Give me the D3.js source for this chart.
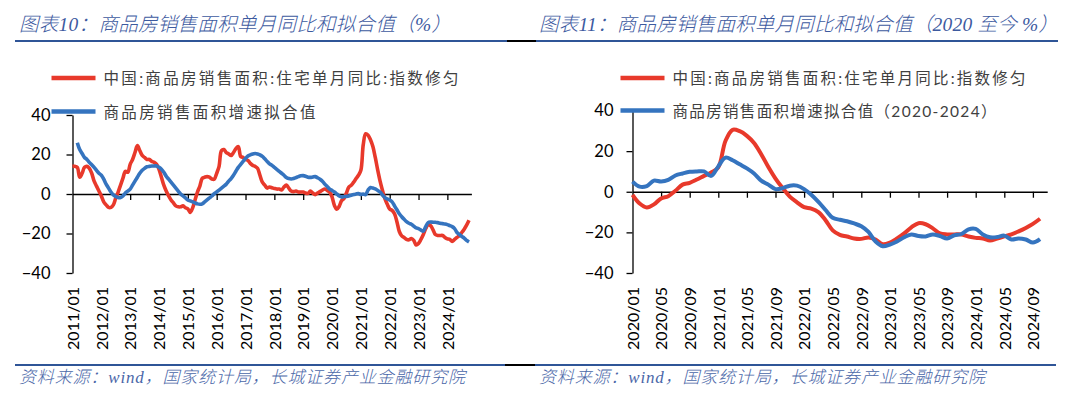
<!DOCTYPE html>
<html lang="zh">
<head>
  <meta charset="UTF-8">
  <title>商品房销售面积单月同比和拟合值</title>
  <script src="https://cdnjs.cloudflare.com/ajax/libs/d3/7.8.5/d3.min.js"></script>
  <style>
    body { margin: 0; background: #fff; }
    svg { display: block; }
    .axis path, .axis line { stroke: #000; stroke-width: 1.3px; }
    .axis text { font-family: Lato, "Liberation Sans", sans-serif; fill: #000; }
    .title { font-family: "Liberation Serif", "Noto Sans CJK SC", serif; font-style: italic; font-weight: 300; font-size: 19.5px; fill: #3d5a9f; }
    .source { font-family: "Liberation Serif", "Noto Sans CJK SC", serif; font-style: italic; font-weight: 300; font-size: 17px; fill: #4a67a8; }
    .legend text { font-family: Lato, "Noto Sans CJK SC", sans-serif; font-size: 15.5px; fill: #404040; }
  </style>
</head>
<body>
  <svg width="1080" height="393"></svg>
  <script>
    // 中国:商品房销售面积:住宅单月同比:指数修匀, 2011/01 - 2019/12
    const redHistory = [].concat(
      [14, 14, 13.5, 8.5, 10.5, 13.5, 14, 13, 10.5, 6.5, 4, 1.5],        // 2011
      [-1, -4, -5.5, -6.8, -6.8, -5.5, -2, 1, 4.5, 8, 11.5, 11],          // 2012
      [15, 17.5, 21, 24.5, 22, 19.5, 18.5, 17.5, 17.5, 16.5, 16, 15],     // 2013
      [12.5, 8.5, 4.5, 1.5, -1, -3, -4.5, -6, -6.5, -6.5, -6, -7],        // 2014
      [-7.5, -9.3, -7, -3, 1, 4, 8, 8.5, 8.8, 8.5, 7.6, 7.5],             // 2015
      [10.5, 14, 22, 22.5, 21, 20.3, 19.5, 21, 23, 24, 19, 18.5],         // 2016
      [17.5, 17, 15.5, 14.5, 14, 13, 9.5, 6, 4.5, 3, 3.5, 3.2],           // 2017
      [2.8, 2.5, 2.5, 2, 3.5, 4.5, 3, 1.5, 1.2, 1.5, 1, 1],               // 2018
      [1, 0.5, 0.3, 1.5, 0.5, -0.3, 0.5, 1.2, 2, 2.5, 1.8, 1]             // 2019
    )

    // 同一序列, 2020/01 - 2024/10
    const redRecent = [].concat(
      [-1.5, -5.8, -7.7, -6.2, -3.3, -2.2, 0.5, 3.5, 4.4, 6, 7.8, 9.5],            // 2020
      [12, 25, 30.5, 29.8, 27.5, 24, 18.5, 12.2, 6.5, 1.8, -2.4, -5.2],            // 2021
      [-7.6, -8.3, -10, -14, -19, -21.2, -22, -23, -23.2, -22.5, -23.5, -25.8],    // 2022
      [-25, -23, -20.5, -17.5, -15.5, -16, -18, -20.5, -21, -21, -21, -22],        // 2023
      [-22.7, -23, -24, -23, -22, -21, -19.5, -17.8, -15.8, -13.3]                 // 2024
    )

    // 商品房销售面积增速拟合值, 2011/03 - 2024/10
    const blueFitLong = [].concat(
      [26, 22.5, 20.5, 18.5, 17.5, 16, 14.8, 13.5, 12, 10.5],                     // 2011 (3月起)
      [9.5, 7.5, 5, 3, 1, -0.5, -1.2, -1.8, -1.8, -1, 0.5, 1.5],                  // 2012
      [2.5, 4.5, 6.5, 8.5, 10.5, 12, 13, 13.8, 14, 14.2, 14.2, 14.2],             // 2013
      [13.5, 12.5, 11, 9, 7.5, 6, 4.5, 3, 1.5, 0, -1, -2],                        // 2014
      [-3, -3.5, -4, -4.5, -5, -5.2, -5, -4, -3, -2, -1, 0.2],                    // 2015
      [1, 2, 3, 4, 5, 6.5, 7.8, 9.5, 11.5, 13.5, 15, 16.5],                       // 2016
      [18, 19.2, 19.8, 20.3, 20.5, 20.3, 19.8, 19, 17.8, 16.5, 15.3, 14.5],       // 2017
      [13.5, 12.5, 11.5, 10.5, 9.5, 8.3, 7.8, 7.6, 7.8, 8.3, 8.8, 9.2],           // 2018
      [9.3, 9, 8.5, 8.4, 8.6, 8.8, 8.2, 7.5, 6.5, 5, 3.8, 2.5],                   // 2019
      [1.8, 1, 0, -1, -1.5, -1.3, -1.2, -1, -0.6, -0.3, 0, 0.2],                  // 2020
      [-0.2, 0, -0.3, 2, 3.3, 3, 2.6, 1.8, 1, -0.5, -1.8, -2.5],                  // 2021
      [-3, -4, -6, -8, -10, -11.5, -12.8, -14, -14.8, -15.3, -16.3, -17.2],       // 2022
      [-17.5, -18.3, -18.8, -16.5, -14.5, -14.2, -14.3, -14.3, -14.5, -14.8, -15, -15.2], // 2023
      [-15.5, -16, -16.5, -17.5, -19.5, -20.5, -21.5, -22.3, -23.5, -24.3]        // 2024
    )

    // 商品房销售面积增速拟合值（2020-2024）, 2020/01 - 2024/10
    const blueFit2020 = [].concat(
      [5, 2.5, 2.8, 5.5, 5, 5.8, 8, 9, 9.8, 10, 10, 7.8],                          // 2020
      [12.5, 16.8, 15.5, 13.5, 11.5, 9, 5.5, 3.5, 1.3, 1.8, 3, 3],                 // 2021
      [1.3, -1.5, -5, -9, -12.8, -13.8, -14.5, -15.6, -17, -19.8, -24.5, -26.8],   // 2022
      [-26, -24.5, -22.4, -21, -21.8, -22, -21, -21.8, -23, -21.5, -20.8, -18.5],  // 2023
      [-18.3, -21, -22.4, -22.3, -21.6, -23.5, -23, -23.5, -25, -23.3]             // 2024
    )

    const yTicks = [-40, -20, 0, 20, 40]
    const leftTickLabels = ['2011/01', '2012/01', '2013/01', '2014/01', '2015/01', '2016/01', '2017/01',
      '2018/01', '2019/01', '2020/01', '2021/01', '2022/01', '2023/01', '2024/01']
    const rightTickLabels = ['2020/01', '2020/05', '2020/09', '2021/01', '2021/05', '2021/09', '2022/01',
      '2022/05', '2022/09', '2023/01', '2023/05', '2023/09', '2024/01', '2024/05', '2024/09']

    const RED = '#e8392b'
    const BLUE = '#3574bf'
    const LINE_BLUE = '#2f5597'

    const svg = d3.select('svg')

    // 标题、来源的分隔线
    function rule(y, x1, x2, color) {
      svg.append('line')
        .attr('x1', x1).attr('x2', x2).attr('y1', y).attr('y2', y)
        .attr('stroke', color).attr('stroke-width', 2)
    }
    rule(41, 15, 507, LINE_BLUE)
    rule(41, 507, 536, '#000')
    rule(41, 536, 1058, LINE_BLUE)
    rule(365, 15, 505, LINE_BLUE)
    rule(365, 505, 535, '#000')
    rule(365, 535, 1056, LINE_BLUE)

    function drawPanel(p) {
      const g = svg.append('g')
      const n = p.months
      const x = d3.scaleLinear().domain([0, n]).range([p.x0, p.x0 + n * p.step])
      const y = d3.scaleLinear().domain([-40, 40]).range([p.yBot, p.yTop])

      g.append('text').attr('class', 'title')
        .attr('x', p.titleX).attr('y', 30.5)
        .attr('textLength', p.titleLen).attr('lengthAdjust', 'spacing')
        .text(p.title)

      g.append('text').attr('class', 'source')
        .attr('x', p.titleX).attr('y', 383)
        .attr('textLength', 446).attr('lengthAdjust', 'spacing')
        .text('资料来源：wind，国家统计局，长城证券产业金融研究院')

      // y 轴
      g.append('g').attr('class', 'axis')
        .attr('transform', `translate(${p.x0},0)`)
        .call(d3.axisLeft(y).tickValues(yTicks).tickSize(6).tickSizeOuter(0).tickPadding(p.yPad))
        .selectAll('text').style('font-size', '16.5px')

      // x 轴 (0 线)
      const tickIdx = p.labels.map((d, i) => i * p.every)
      const xAxis = g.append('g').attr('class', 'axis')
        .attr('transform', `translate(0,${y(0)})`)
        .call(d3.axisBottom(x).tickValues(tickIdx).tickSize(6).tickSizeOuter(0)
          .tickFormat((d, i) => p.labels[i]))
      xAxis.selectAll('.tick').filter(d => d === 0).select('line').remove()
      xAxis.selectAll('text')
        .style('font-size', '16px')
        .attr('transform', 'rotate(-90)')
        .attr('text-anchor', 'end')
        .attr('x', -(287 - y(0)))
        .attr('y', 0)
        .attr('dy', '0.36em')

      const line = d3.line()
        .x(d => x(d.i))
        .y(d => y(d.v))
        .curve(d3.curveCatmullRom.alpha(0.5))

      p.series.forEach(s => {
        const pts = s.values.map((v, k) => ({ i: s.start + k, v: v }))
        g.append('path')
          .attr('d', line(pts))
          .attr('fill', 'none')
          .attr('stroke', s.color)
          .attr('stroke-width', p.lineW)
          .attr('stroke-linejoin', 'round')
      })

      // 图例
      const lg = g.append('g').attr('class', 'legend')
      p.legend.forEach(item => {
        lg.append('line')
          .attr('x1', p.legX).attr('x2', p.legX + 44)
          .attr('y1', item.y).attr('y2', item.y)
          .attr('stroke', item.color).attr('stroke-width', 4.5)
        lg.append('text')
          .attr('x', p.legX + 52).attr('y', item.y + 6)
          .attr('textLength', item.len).attr('lengthAdjust', 'spacing')
          .text(item.name)
      })
    }

    drawPanel({
      title: '图表10：商品房销售面积单月同比和拟合值（%）',
      titleX: 19, titleLen: 432,
      x0: 72.5, step: 2.403, months: 166, every: 12,
      yTop: 115, yBot: 273, yPad: 16,
      labels: leftTickLabels,
      lineW: 3.6,
      series: [
        { values: redHistory.concat(redRecent), start: 0, color: RED },
        { values: blueFitLong, start: 2, color: BLUE }
      ],
      legX: 51.5,
      legend: [
        { name: '中国:商品房销售面积:住宅单月同比:指数修匀', color: RED, y: 78, len: 355 },
        { name: '商品房销售面积增速拟合值', color: BLUE, y: 111.5, len: 212 }
      ]
    })

    drawPanel({
      title: '图表11：商品房销售面积单月同比和拟合值（2020 至今 %）',
      titleX: 539, titleLen: 519,
      x0: 632.5, step: 7.15, months: 58, every: 4,
      yTop: 110.5, yBot: 273, yPad: 13,
      labels: rightTickLabels,
      lineW: 4,
      series: [
        { values: redRecent, start: 0, color: RED },
        { values: blueFit2020, start: 0, color: BLUE }
      ],
      legX: 620.5,
      legend: [
        { name: '中国:商品房销售面积:住宅单月同比:指数修匀', color: RED, y: 78, len: 353 },
        { name: '商品房销售面积增速拟合值（2020-2024）', color: BLUE, y: 110.5, len: 324 }
      ]
    })
  </script>
</body>
</html>
